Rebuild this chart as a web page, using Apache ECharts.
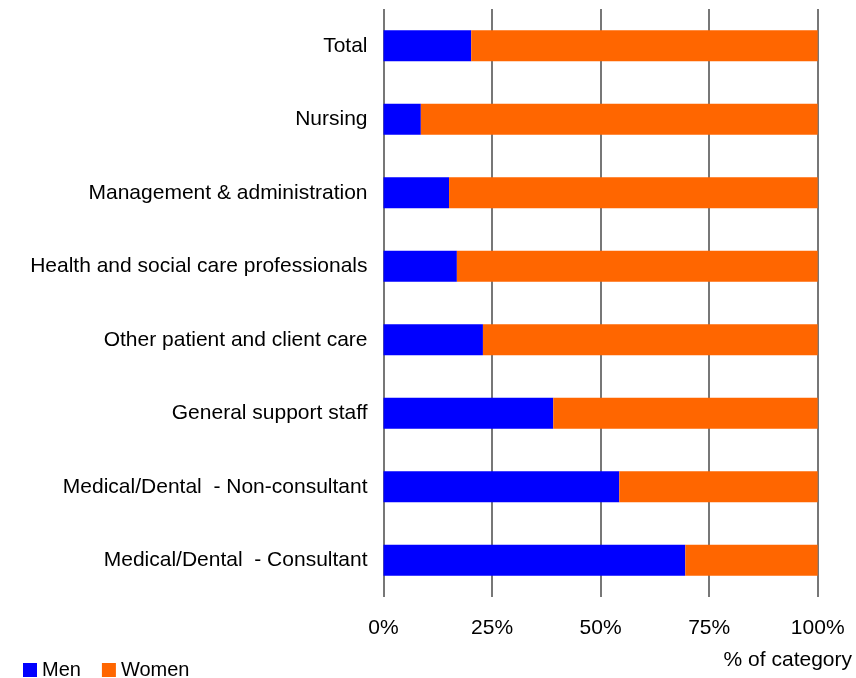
<!DOCTYPE html>
<html>
<head>
<meta charset="utf-8">
<script src="https://cdn.jsdelivr.net/npm/echarts@6/dist/echarts.min.js"></script>
<style>
  html, body { margin: 0; padding: 0; background: #fff; }
  #chart { width: 856px; height: 678px; }
</style>
</head>
<body>
<div id="chart"></div>
<script>
// categories, top to bottom
const categories = [
  "Total",
  "Nursing",
  "Management & administration",
  "Health and social care professionals",
  "Other patient and client care",
  "General support staff",
  "Medical/Dental  - Non-consultant",
  "Medical/Dental  - Consultant"
];
// % of category
const menValues = [20.2, 8.6, 15.1, 16.9, 22.9, 39.1, 54.3, 69.5];
const womenValues = [79.8, 91.4, 84.9, 83.1, 77.1, 60.9, 45.7, 30.5];
const xTicks = [0, 25, 50, 75, 100];

const chart = echarts.init(document.getElementById("chart"));
const font = "Liberation Sans, Arial, sans-serif";

const option = {
  animation: false,
  backgroundColor: "#fff",
  textStyle: { fontFamily: font },
  title: {
    text: "% of category",
    right: 4,
    top: 650,
    padding: 0,
    textStyle: { fontSize: 21, fontWeight: "normal", color: "#000", fontFamily: font }
  },
  legend: {
    left: 23,
    top: 660,
    padding: 0,
    itemWidth: 14,
    itemHeight: 14,
    itemGap: 21,
    textStyle: { fontSize: 20, color: "#000", fontFamily: font },
    data: [
      { name: "Men", icon: "rect" },
      { name: "Women", icon: "rect" }
    ]
  },
  grid: { left: 383.5, right: 38.3, top: 9, bottom: 81, containLabel: false },
  xAxis: {
    type: "value",
    min: xTicks[0],
    max: xTicks[xTicks.length - 1],
    interval: 25,
    axisLine: { show: false },
    axisTick: { show: false },
    splitLine: { show: true, lineStyle: { color: "#4a4a4a", width: 1.5 } },
    axisLabel: {
      formatter: "{value}%",
      fontSize: 21,
      color: "#000",
      margin: 21
    }
  },
  yAxis: {
    type: "category",
    inverse: true,
    data: categories,
    axisLine: { show: false },
    axisTick: { show: false },
    axisLabel: { fontSize: 21, color: "#000", margin: 16 }
  },
  series: [
    {
      name: "Men",
      type: "bar",
      stack: "total",
      barWidth: "42%",
      itemStyle: { color: "#0000ff" },
      data: menValues
    },
    {
      name: "Women",
      type: "bar",
      stack: "total",
      barWidth: "42%",
      itemStyle: { color: "#ff6600" },
      data: womenValues
    }
  ]
};

chart.setOption(option);
</script>
</body>
</html>
